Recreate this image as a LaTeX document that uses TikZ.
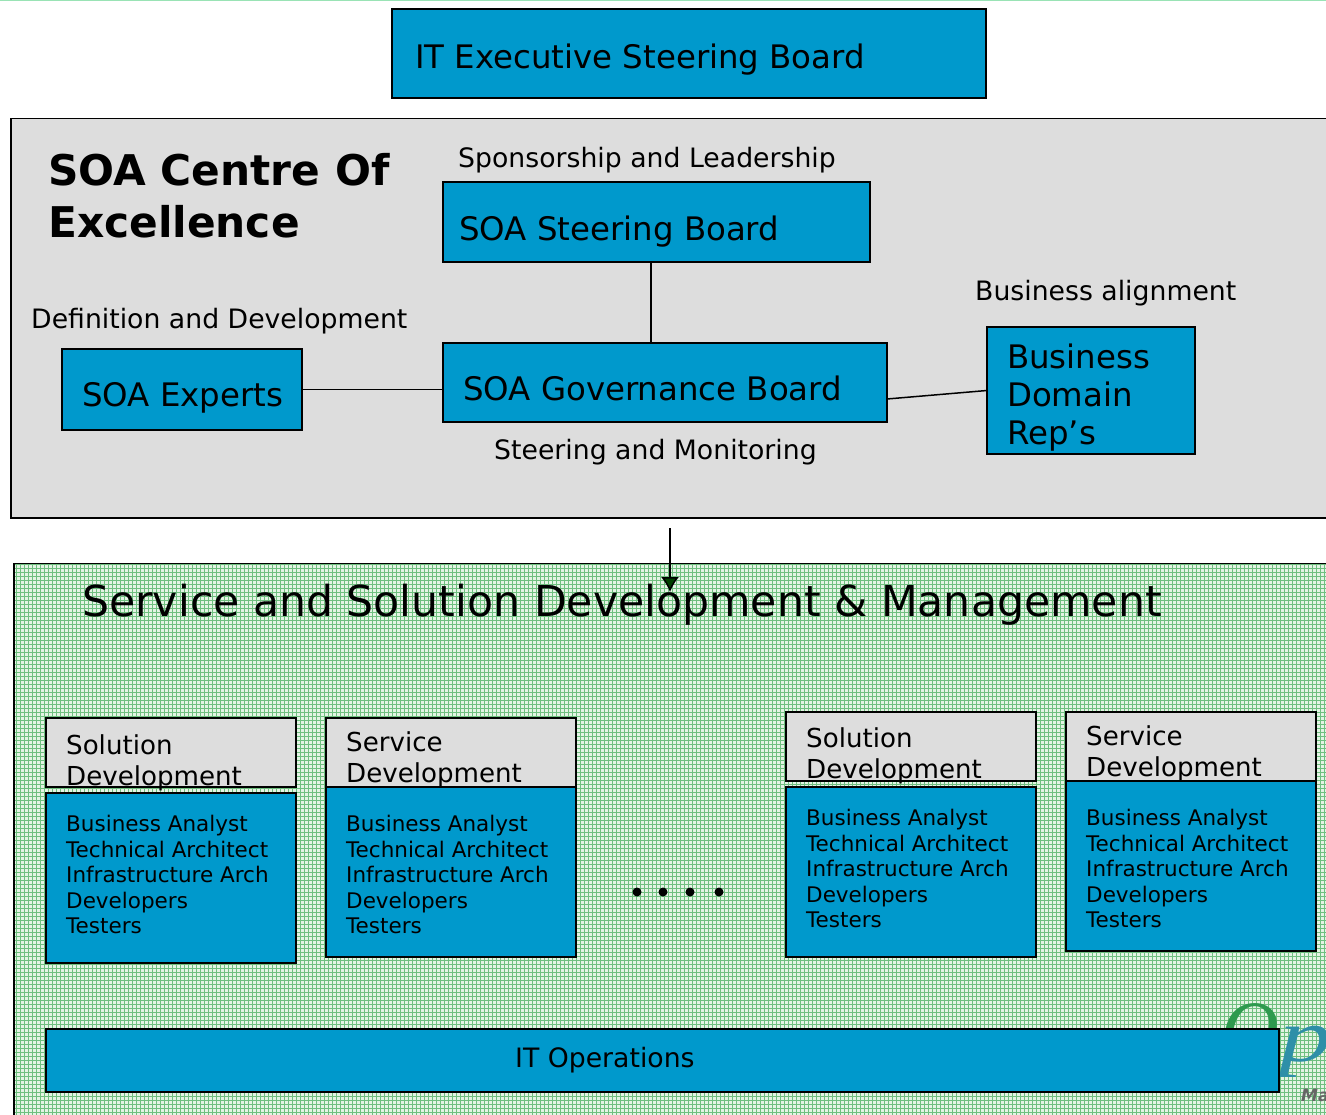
\documentclass[tikz,border=0pt]{standalone}
\usepackage{fontspec}
\setmainfont{DejaVu Sans}
\newfontfamily\logofont{Liberation Serif}
\usetikzlibrary{arrows.meta}
\definecolor{boardblue}{HTML}{0099CC}
\definecolor{coegrey}{HTML}{DDDDDD}
\definecolor{hatchgreen}{HTML}{E4F4E4}
\definecolor{gridgreen}{HTML}{6FBF7F}
\definecolor{logogreen}{HTML}{2E9A4E}
\definecolor{logoblue}{HTML}{2E8FA8}
\tikzset{
boardbox/.style={draw=black, fill=boardblue, line width=1.8pt, rectangle, inner sep=0pt, outer sep=0pt},
greybox/.style={draw=black, fill=coegrey, line width=1.8pt, rectangle, inner sep=0pt, outer sep=0pt},
boardtext/.style={anchor=west, align=left, inner sep=0pt, font=\fontsize{32.4}{38}\selectfont},
caption/.style={anchor=west, inner sep=0pt, font=\fontsize{26.7}{30}\selectfont},
headtext/.style={anchor=west, align=left, inner sep=0pt, font=\fontsize{26.1}{30.5}\selectfont},
teamtext/.style={anchor=north west, align=left, inner sep=0pt, font=\fontsize{21.5}{25.5}\selectfont},
}
\newcommand{\boxat}[6]{\node[#1, minimum width=#5-#3, minimum height=#6-#4, anchor=north west] (#2) at (#3,#4) {};}

\begin{document}
\begin{tikzpicture}[x=1pt,y=-1pt]
\useasboundingbox (0,0) rectangle (1326,1115);
\clip (0,0) rectangle (1326,1115);

\draw[line width=1pt, green!45!teal!40] (0,0.5) -- (1326,0.5);

% top board
\boxat{boardbox}{itboard}{392}{9}{986}{98}
\node[boardtext] (ittext) at (415,60) {IT Executive Steering Board};

% centre of excellence
\draw[greybox] (11,118.5) -- (1330,118.5) -- (1330,518) -- (11,518) -- cycle;
\node[anchor=west, align=left, inner sep=0pt, font=\fontsize{42.3}{52}\selectfont\bfseries] (coetitle) at (48,196) {SOA Centre Of\\Excellence};

\node[caption] (sponsor) at (458,160) {Sponsorship and Leadership};
\node[caption] (defin) at (31,321) {Definition and Development};
\node[caption] (align) at (975,293) {Business alignment};
\node[caption] (monitor) at (494,452) {Steering and Monitoring};

\boxat{boardbox}{steering}{443}{182}{870}{262}
\boxat{boardbox}{gov}{443}{343}{887}{422}
\boxat{boardbox}{experts}{62}{349}{302}{430}
\boxat{boardbox}{reps}{987}{327}{1195}{454}

\node[boardtext] (steertext) at (459,232) {SOA Steering Board};
\node[boardtext] (govtext) at (463,388) {SOA Governance Board};
\node[boardtext] (expertext) at (82,398) {SOA Experts};
\node[boardtext] (repstext) at (1007,398) {Business\\Domain\\Rep's};

\coordinate (stem) at (651,262);
\coordinate (govright) at (887,399);
\draw[line width=1.5pt] (stem) -- (stem |- gov.north);
\draw[line width=1.5pt] (experts.east) -- (experts.east -| gov.west);
\draw[line width=1.5pt] (govright) -- (reps.west);

% development area
\fill[hatchgreen] (14,563) rectangle (1330,1120);
\begin{scope}
\clip (14,563) rectangle (1330,1120);
\draw[gridgreen, line width=1pt, step=4pt] (12,560) grid (1330,1120);
\end{scope}
\draw[line width=1.8pt] (1330,563.5) -- (14,563.5) -- (14,1120);

% logo behind the operations bar
\node[anchor=west, inner sep=0pt, text=logogreen, font=\logofont\itshape\fontsize{80}{80}\selectfont] (logoO) at (1221,1030) {O};
\node[anchor=west, inner sep=0pt, text=logoblue, font=\logofont\itshape\fontsize{75}{75}\selectfont, transform shape, xscale=1.4] (logoP) at (1279,1052) {p};
\node[anchor=west, inner sep=0pt, text=black!60, font=\bfseries\itshape\fontsize{17}{17}\selectfont] (logoM) at (1301,1095) {Ma};

\node[anchor=west, inner sep=0pt, font=\fontsize{42.6}{44}\selectfont] (devtitle) at (82,605) {Service and Solution Development \& Management};

\coordinate (arrowtop) at (670,528);
\coordinate (arrowtip) at (670,592);
\draw[line width=1.5pt, -{Latex[length=15pt,width=18pt,fill=green!25!black]}, draw=black] (arrowtop) -- (arrowtip);

\foreach \i/\name/\x/\ytop/\ybot/\yblue/\yhead/\yteam in {1/Solution/46/718/787/793/763/815, 2/Service/326/718/787/787/760/815, 3/Solution/786/712/781/787/756/809, 4/Service/1066/712/781/781/754/809}
{
    \boxat{greybox}{head\i}{\x}{\ytop}{\x+250}{\ybot}
    \node[headtext] (headtext\i) at (\x+20,\yhead) {\name\\Development};
    \boxat{boardbox}{team\i}{\x}{\yblue}{\x+250}{\yblue+170}
    \node[teamtext] (teamtext\i) at (\x+20,\yteam) {Business Analyst\\Technical Architect\\Infrastructure Arch\\Developers\\Testers};
}

\foreach \i/\x in {1/637,2/663,3/690,4/719}
    \fill (\x,892) circle (4.5pt) node (dot\i) {};

\boxat{boardbox}{itops}{46}{1029}{1279}{1092}
\node[caption] (opstext) at (515,1060) {IT Operations};

\end{tikzpicture}
\end{document}
